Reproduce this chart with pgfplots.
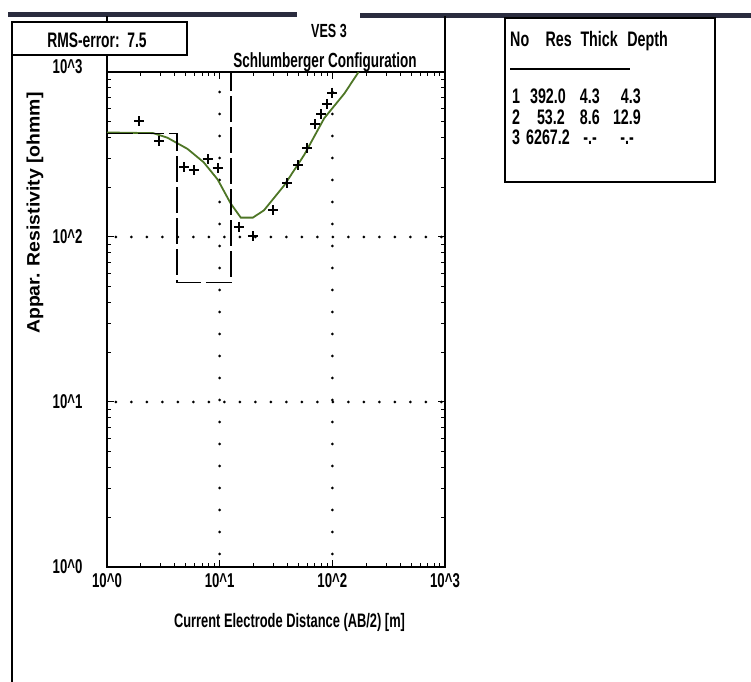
\documentclass[border=0pt]{standalone}
\usepackage{fontspec}
\setmainfont{Liberation Sans}[FakeStretch=0.66]
\newfontfamily\widefont{Liberation Sans}[FakeStretch=1.08]
\newfontfamily\tabfont{Liberation Sans}[FakeStretch=0.68]
\usepackage{pgfplots}
\pgfplotsset{compat=1.18}
\definecolor{curvegreen}{RGB}{78,118,38}
\definecolor{barnavy}{RGB}{42,44,62}
\newcommand{\lab}{\fontsize{20bp}{22bp}\selectfont\bfseries}
\newcommand{\tab}{\fontsize{21bp}{22bp}\selectfont\tabfont\bfseries}
\begin{document}
\begin{tikzpicture}[x=1bp,y=1bp]
\path[use as bounding box] (0,0) rectangle (751,682);
% outer frame pieces
\draw[line width=2.2bp] (12,0) -- (12,627);
\fill[barnavy] (8,665) rectangle (297,670);
\fill[barnavy] (360,664) rectangle (751,669);
\draw[line width=2.2bp] (12,627) rectangle (187,660);
\node[font=\fontsize{21bp}{22bp}\selectfont\bfseries] at (97,642) {RMS-error:\ \ 7.5};
\draw[line width=2.2bp] (107,627) -- (107,610);
\draw[line width=2.2bp] (107,666) -- (107,660);
\draw[line width=2.2bp] (445,666) -- (445,610);
\node[font=\fontsize{19bp}{21bp}\selectfont\bfseries] at (329,651) {VES 3};
\node[font=\fontsize{20.5bp}{22bp}\selectfont\bfseries] at (325,620) {Schlumberger Configuration};
% table box
\draw[line width=2.2bp] (505,500) rectangle (715,664);
\node[font=\tab, anchor=base west, inner sep=0pt] at (510,635) {No};
\node[font=\tab, anchor=base east, inner sep=0pt] at (572,635) {Res};
\node[font=\tab, anchor=base east, inner sep=0pt] at (618,635) {Thick};
\node[font=\tab, anchor=base east, inner sep=0pt] at (668,635) {Depth};
\draw[line width=1.6bp] (510,613) -- (630,613);
\node[font=\tab, anchor=base west, inner sep=0pt] at (512,578) {1};
\node[font=\tab, anchor=base east, inner sep=0pt] at (566,578) {392.0};
\node[font=\tab, anchor=base east, inner sep=0pt] at (600,578) {4.3};
\node[font=\tab, anchor=base east, inner sep=0pt] at (641,578) {4.3};
\node[font=\tab, anchor=base west, inner sep=0pt] at (512,557) {2};
\node[font=\tab, anchor=base east, inner sep=0pt] at (565,557) {53.2};
\node[font=\tab, anchor=base east, inner sep=0pt] at (600,557) {8.6};
\node[font=\tab, anchor=base east, inner sep=0pt] at (641,557) {12.9};
\node[font=\tab, anchor=base west, inner sep=0pt] at (512,537) {3};
\node[font=\tab, anchor=base east, inner sep=0pt] at (570,537) {6267.2};
\node[font=\tab, anchor=base east, inner sep=0pt] at (597,537) {-.-};
\node[font=\tab, anchor=base east, inner sep=0pt] at (634,537) {-.-};
\begin{axis}[
  at={(107bp,115bp)}, anchor=south west,
  scale only axis, width=338bp, height=495bp,
  xmode=log, ymode=log,
  xmin=1, xmax=1000, ymin=1, ymax=1000,
  axis line style={line width=2.2bp},
  tick style={line width=1bp, black},
  tick align=inside, tick pos=both,
  major tick length=7bp, minor tick length=4bp,
  xtick={1,10,100,1000},
  xticklabels={10\textasciicircum0,10\textasciicircum1,10\textasciicircum2,10\textasciicircum3},
  ytick={1,10,100,1000},
  yticklabels={\raisebox{-5bp}{10\textasciicircum0},10\textasciicircum1,10\textasciicircum2,\raisebox{10bp}{10\textasciicircum3}},
  tick label style={font=\lab},
  xticklabel style={yshift=-3bp},
  yticklabel style={xshift=-21bp},
  xlabel={Current Electrode Distance (AB/2) [m]},
  xlabel style={font=\fontsize{19.5bp}{21bp}\selectfont\bfseries, at={(axis description cs:0.54,-0.113)}, anchor=center},
  ylabel={Appar. Resistivity [ohmm]},
  ylabel style={font=\fontsize{18bp}{20bp}\selectfont\widefont\bfseries, at={(axis description cs:-0.213,0.715)}, anchor=center},
]
\draw[line width=3bp, line cap=round, dash pattern=on 0bp off 15.5bp] (axis cs:1.2,10) -- (axis cs:1000,10);
\draw[line width=3bp, line cap=round, dash pattern=on 0bp off 15.5bp] (axis cs:1.2,100) -- (axis cs:1000,100);
\draw[line width=3bp, line cap=round, dash pattern=on 0bp off 22bp] (axis cs:10,1.2) -- (axis cs:10,1000);
\draw[line width=3bp, line cap=round, dash pattern=on 0bp off 22bp] (axis cs:100,1.2) -- (axis cs:100,1000);
% model curve
\addplot[curvegreen, line width=1.8bp] coordinates {
(1,430) (2.57,426) (3.43,400) (5.18,342) (7.2,284) (9.6,223) (12.5,160) (15.4,131) (19.7,131) (24.7,145) (37.3,205) (56.2,314) (84.8,525) (128,741) (171,1000)};
% layered model
\addplot[black, line width=1.6bp, dash pattern=on 26bp off 5bp] coordinates {
(1,425) (4.2,425) (4.2,53) (12.6,53) (12.6,1000)};
% field data
\addplot[only marks, mark=+, mark size=5bp, mark options={line width=2bp, black}] coordinates {
(1.93,504) (2.91,384) (4.87,264) (5.86,254) (7.82,296) (9.6,261) (14.8,115) (19.7,101) (29.7,145) (39.6,213) (49.7,272) (59.8,347) (70.5,482) (79.8,556) (90.2,641) (100,751)};
\end{axis}
\end{tikzpicture}
\end{document}
